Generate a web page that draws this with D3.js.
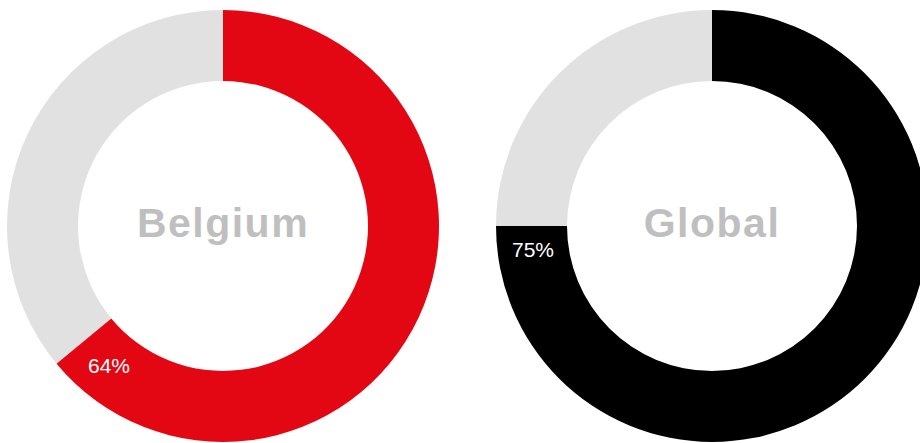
<!DOCTYPE html>
<html>
<head>
<meta charset="utf-8">
<script src="https://cdn.jsdelivr.net/npm/d3@7"></script>
<style>
  body { margin: 0; background: #fff; }
  svg { display: block; }
</style>
</head>
<body>
<div id="chart"></div>
<script>
const regions = ["Belgium", "Global"];
const shares = [64, 75];
const shareColors = ["#e30613", "#000000"];
const restColor = "#e1e1e1";

const width = 920, height = 443;
const outerR = 216, innerR = 145;

var svg = d3.select("#chart").append("svg").attr("width", width).attr("height", height);

const cx = d3.scalePoint().domain(regions).range([223, 712]);
const angle = d3.scaleLinear().domain([0, 100]).range([0, 2 * Math.PI]);
const arc = d3.arc().innerRadius(innerR).outerRadius(outerR);

regions.forEach(function (name, i) {
    const g = svg.append("g").attr("transform", "translate(" + cx(name) + ",226)");
    const v = shares[i];
    const end = angle(v);

    g.append("path")
        .attr("d", arc({ startAngle: end, endAngle: angle(100) }))
        .attr("fill", restColor);
    g.append("path")
        .attr("d", arc({ startAngle: 0, endAngle: end }))
        .attr("fill", shareColors[i]);

    // slide the label back from the arc end until its box clears the edge
    const r = (innerR + outerR) / 2, w = 43, h = 16, gap = 15;
    let a = end;
    function clearance(a) {
        const x = r * Math.sin(a), y = -r * Math.cos(a);
        let m = Infinity;
        [[-1, -1], [1, -1], [-1, 1], [1, 1]].forEach(function (c) {
            const px = x + c[0] * w / 2, py = y + c[1] * h / 2;
            m = Math.min(m, Math.abs(-px * Math.cos(end) - py * Math.sin(end)));
        });
        return m;
    }
    while (clearance(a) < gap && a > end - 0.6) a -= 0.002;

    g.append("text")
        .attr("x", r * Math.sin(a))
        .attr("y", -r * Math.cos(a))
        .attr("dy", "0.36em")
        .attr("text-anchor", "middle")
        .attr("fill", "#fff")
        .style("font-family", "'Liberation Sans', Arial, sans-serif")
        .style("font-size", "21px")
        .text(v + "%");

    g.append("text")
        .attr("x", 0)
        .attr("y", 11)
        .attr("text-anchor", "middle")
        .attr("fill", "#bfbfbf")
        .style("font-family", "'Liberation Sans', Arial, sans-serif")
        .style("font-weight", "bold")
        .style("font-size", "41px")
        .style("letter-spacing", "1.5px")
        .text(name);
});
</script>
</body>
</html>
